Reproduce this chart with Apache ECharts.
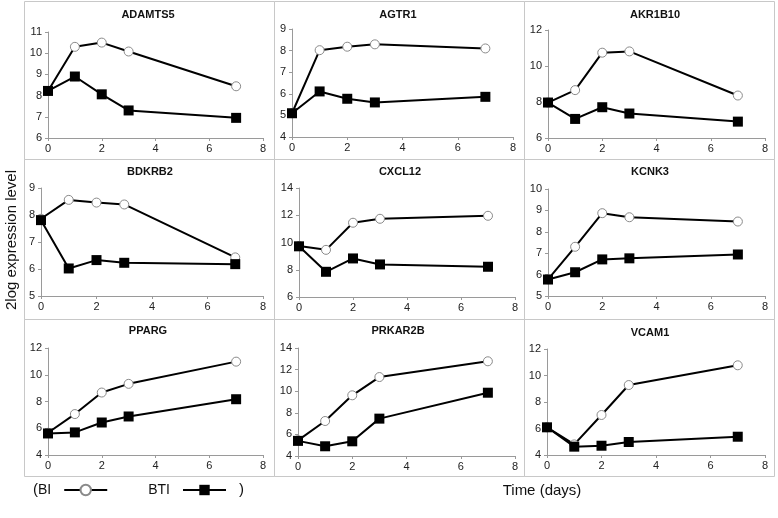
<!DOCTYPE html>
<html>
<head>
<meta charset="utf-8">
<script src="https://cdn.jsdelivr.net/npm/echarts@6/dist/echarts.min.js"></script>
<style>
html,body{margin:0;padding:0;background:#fff;}
#chart{width:778px;height:518px;}
</style>
</head>
<body>
<div id="chart"></div>
<script>
// ---- data ----
const days = [0, 1, 2, 3, 7];
const genes = ['ADAMTS5','AGTR1','AKR1B10','BDKRB2','CXCL12','KCNK3','PPARG','PRKAR2B','VCAM1'];
const bi_ADAMTS5 = [8.22, 10.3, 10.5, 10.08, 8.44];
const bti_ADAMTS5 = [8.22, 8.9, 8.06, 7.3, 6.95];
const bi_AGTR1 = [5.1, 8.02, 8.18, 8.29, 8.1];
const bti_AGTR1 = [5.1, 6.11, 5.77, 5.6, 5.86];
const bi_AKR1B10 = [7.97, 8.66, 10.74, 10.81, 8.36];
const bti_AKR1B10 = [7.97, 7.06, 7.71, 7.36, 6.91];
const bi_BDKRB2 = [7.86, 8.56, 8.46, 8.39, 6.43];
const bti_BDKRB2 = [7.81, 6.02, 6.33, 6.23, 6.18];
const bi_CXCL12 = [9.74, 9.46, 11.45, 11.74, 11.96];
const bti_CXCL12 = [9.72, 7.85, 8.83, 8.39, 8.22];
const bi_KCNK3 = [5.78, 7.3, 8.87, 8.68, 8.48];
const bti_KCNK3 = [5.77, 6.11, 6.71, 6.76, 6.94];
const bi_PPARG = [5.66, 7.06, 8.67, 9.32, 10.98];
const bti_PPARG = [5.61, 5.69, 6.43, 6.88, 8.17];
const bi_PRKAR2B = [5.45, 7.24, 9.62, 11.31, 12.77];
const bti_PRKAR2B = [5.4, 4.9, 5.36, 7.46, 9.86];
const bi_VCAM1 = [6.09, 4.8, 7.02, 9.28, 10.77];
const bti_VCAM1 = [6.09, 4.63, 4.7, 4.98, 5.38];
const biSets = [bi_ADAMTS5, bi_AGTR1, bi_AKR1B10, bi_BDKRB2, bi_CXCL12, bi_KCNK3, bi_PPARG, bi_PRKAR2B, bi_VCAM1];
const btiSets = [bti_ADAMTS5, bti_AGTR1, bti_AKR1B10, bti_BDKRB2, bti_CXCL12, bti_KCNK3, bti_PPARG, bti_PRKAR2B, bti_VCAM1];
const yMin = [6, 4, 6, 5, 6, 5, 4, 4, 4];
const yMax = [11, 9, 12, 9, 14, 10, 12, 14, 12];
const yStep = [1, 1, 2, 1, 2, 1, 2, 2, 2];
const xTicks = [0, 2, 4, 6, 8];
const seriesNames = ['BI', 'BTI'];
const yTitle = '2log expression level';
const xTitle = 'Time (days)';

// ---- layout ----
const grids = [
  {left:48, top:32, width:215, height:106},
  {left:292, top:29, width:221, height:108},
  {left:548, top:30, width:217, height:108},
  {left:41, top:188, width:222, height:108},
  {left:299, top:188, width:216, height:109},
  {left:548, top:189, width:217, height:107},
  {left:48, top:348, width:215, height:107},
  {left:298, top:348, width:217, height:108},
  {left:547, top:349, width:218, height:106}
];
const titlePos = [[148,15],[398,15],[655,15],[150,172],[400,172],[650,172],[148,331],[398,331],[650,333]];
const colX = [24, 274, 524, 774];
const rowY = [1, 159, 319, 476];

const FONT = '"Liberation Sans", Arial, sans-serif';
const axisGray = '#9a9a9a';

const xAxes = [], yAxes = [], series = [], graphics = [];
for (let i = 0; i < 9; i++) {
  xAxes.push({
    gridIndex: i, type: 'value', min: xTicks[0], max: xTicks[xTicks.length-1], interval: 2,
    axisLine: {show: true, lineStyle: {color: axisGray, width: 1}},
    axisTick: {show: true, length: 3, lineStyle: {color: axisGray}},
    axisLabel: {color: '#222', fontSize: 11, fontFamily: FONT, margin: 5},
    splitLine: {show: false}
  });
  yAxes.push({
    gridIndex: i, type: 'value', min: yMin[i], max: yMax[i], interval: yStep[i],
    axisLine: {show: true, lineStyle: {color: axisGray, width: 1}},
    axisTick: {show: true, length: 3, lineStyle: {color: axisGray}},
    axisLabel: {color: '#222', fontSize: 11, fontFamily: FONT, margin: 6},
    splitLine: {show: false}
  });
  series.push({
    name: 'BI', type: 'line', xAxisIndex: i, yAxisIndex: i,
    data: days.map((d, k) => [d, biSets[i][k]]),
    symbol: 'circle', symbolSize: 9,
    lineStyle: {color: '#000', width: 2},
    itemStyle: {color: '#fff', borderColor: '#8a8a8a', borderWidth: 1},
    z: 2, animation: false
  });
  series.push({
    name: 'BTI', type: 'line', xAxisIndex: i, yAxisIndex: i,
    data: days.map((d, k) => [d, btiSets[i][k]]),
    symbol: 'rect', symbolSize: 10,
    lineStyle: {color: '#000', width: 2},
    itemStyle: {color: '#000'},
    z: 3, animation: false
  });
  graphics.push({
    type: 'text', x: titlePos[i][0], y: titlePos[i][1],
    style: {text: genes[i], fill: '#111', font: 'bold 11px ' + FONT, textAlign: 'center', textVerticalAlign: 'middle'}
  });
}
// panel frames
for (let r = 0; r < 3; r++) {
  for (let c = 0; c < 3; c++) {
    graphics.push({
      type: 'rect', silent: true, z: -1,
      shape: {x: colX[c] + 0.5, y: rowY[r] + 0.5, width: colX[c+1] - colX[c], height: rowY[r+1] - rowY[r]},
      style: {fill: null, stroke: '#c8c8c8', lineWidth: 1}
    });
  }
}
graphics.push({
  type: 'text', x: 12, y: 240, rotation: Math.PI / 2,
  style: {text: yTitle, fill: '#111', font: '15px ' + FONT, textAlign: 'center', textVerticalAlign: 'middle'}
});
graphics.push({
  type: 'text', x: 542, y: 491,
  style: {text: xTitle, fill: '#111', font: '15px ' + FONT, textAlign: 'center', textVerticalAlign: 'middle'}
});
graphics.push({
  type: 'text', x: 33, y: 490,
  style: {text: '(', fill: '#111', font: '15px ' + FONT, textAlign: 'left', textVerticalAlign: 'middle'}
});
graphics.push({
  type: 'text', x: 239, y: 490,
  style: {text: ')', fill: '#111', font: '15px ' + FONT, textAlign: 'left', textVerticalAlign: 'middle'}
});

const chart = echarts.init(document.getElementById('chart'), null, {renderer: 'canvas'});
chart.setOption({
  backgroundColor: '#fff',
  animation: false,
  grid: grids.map(g => Object.assign({containLabel: false}, g)),
  xAxis: xAxes,
  yAxis: yAxes,
  series: series,
  legend: {
    data: seriesNames, left: 38, top: 483, align: 'right', padding: 0,
    itemWidth: 43, itemHeight: 13, itemGap: 40,
    textStyle: {color: '#111', fontSize: 14, fontFamily: FONT, padding: [0, 8, 0, 0], lineHeight: 14},
    selectedMode: false
  },
  graphic: graphics
});
</script>
</body>
</html>
